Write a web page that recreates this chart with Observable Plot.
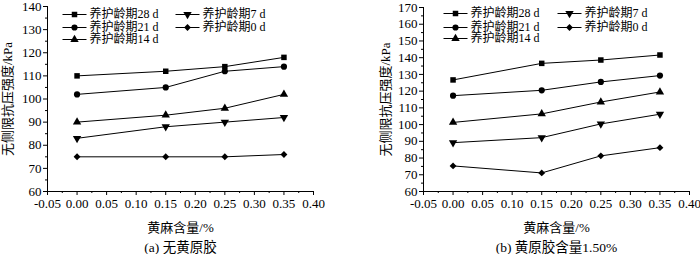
<!DOCTYPE html>
<html><head><meta charset="utf-8">
<script src="https://cdn.jsdelivr.net/npm/d3@7"></script>
<script src="https://cdn.jsdelivr.net/npm/@observablehq/plot@0.6"></script>
<style>
body{margin:0;background:#fff;}
#wrap{display:flex;width:700px;height:254px;}
#wrap svg text{font-family:'Liberation Serif','Noto Sans CJK SC',serif;}
</style></head>
<body><div id="wrap"></div>
<script>
const xValues = [0.00, 0.15, 0.25, 0.35];
const seriesNames = ["养护龄期28 d", "养护龄期7 d", "养护龄期21 d", "养护龄期0 d", "养护龄期14 d"];
// panel (a)
const a28 = [110, 112, 114, 118];
const a21 = [102, 105, 112, 114];
const a14 = [90, 93, 96, 102];
const a7  = [83, 88, 90, 92];
const a0  = [75, 75, 75, 76];
// panel (b)
const b28 = [126.7, 136.6, 138.6, 141.6];
const b21 = [117.3, 120.5, 125.5, 129.3];
const b14 = [101.3, 106.4, 113.5, 119.5];
const b7  = [89.2, 92.2, 100.4, 106.2];
const b0  = [75.3, 71.1, 81.3, 86.2];

const xTicks = [-0.05, 0.00, 0.05, 0.10, 0.15, 0.20, 0.25, 0.30, 0.35, 0.40];
const xMinor = [-0.025, 0.025, 0.075, 0.125, 0.175, 0.225, 0.275, 0.325, 0.375];
const aYTicks = [60, 70, 80, 90, 100, 110, 120, 130, 140];
const aYMinor = [65, 75, 85, 95, 105, 115, 125, 135];
const bYTicks = [60, 70, 80, 90, 100, 110, 120, 130, 140, 150, 160, 170];
const bYMinor = [65, 75, 85, 95, 105, 115, 125, 135, 145, 155, 165];

const yLabel = "无侧限抗压强度/kPa";
const xLabel = "黄麻含量/%";

const triDown = {
  draw(context, size) {
    const y = -Math.sqrt(size / (Math.sqrt(3) * 3));
    context.moveTo(0, -2 * y);
    context.lineTo(-Math.sqrt(3) * y, y);
    context.lineTo(Math.sqrt(3) * y, y);
    context.closePath();
  }
};
const hLine = (len) => ({ draw(context) { context.moveTo(-len/2, 0); context.lineTo(len/2, 0); } });

const symbolDomain = ["养护龄期28 d", "养护龄期21 d", "养护龄期14 d", "养护龄期7 d", "养护龄期0 d"];
const symbolRange = ["square", "circle", "triangle", triDown, "diamond2"];

function buildData(s28, s21, s14, s7, s0) {
  const rows = [];
  const map = {"养护龄期28 d": s28, "养护龄期21 d": s21, "养护龄期14 d": s14, "养护龄期7 d": s7, "养护龄期0 d": s0};
  for (const name of symbolDomain) map[name].forEach((v, i) => rows.push({series: name, x: xValues[i], y: v}));
  return rows;
}

function chart(opts) {
  const {data, yDomain, yTicks, yMinor, marginLeft, marginRight, marginTop, marginBottom, legend, caption, yLabelDx} = opts;
  const legendMarks = [];
  seriesNames.forEach((name, i) => {
    const col = i % 2, row = Math.floor(i / 2);
    const lx = legend.cols[col], ly = legend.rows[row];
    const sym = symbolRange[symbolDomain.indexOf(name)];
    legendMarks.push(Plot.dot([0], {frameAnchor: "top-left", dx: lx + legend.lineLen/2, dy: ly, symbol: hLine(legend.lineLen), stroke: "black", fill: "none", strokeWidth: 1}));
    legendMarks.push(Plot.dot([0], {frameAnchor: "top-left", dx: lx + legend.lineLen/2, dy: ly, symbol: sym, fill: "black", r: 3.1}));
    legendMarks.push(Plot.text([name], {frameAnchor: "top-left", dx: lx + legend.lineLen + 3, dy: ly, text: d => d, textAnchor: "start", lineAnchor: "middle", fontSize: 12, fill: "black"}));
  });
  return Plot.plot({
    width: 350, height: 254,
    marginLeft, marginRight, marginTop, marginBottom,
    style: {fontFamily: "'Liberation Serif','Noto Sans CJK SC',serif", fontSize: "13px", color: "black", background: "white"},
    x: {domain: [-0.05, 0.40]},
    y: {domain: yDomain},
    symbol: {domain: symbolDomain, range: symbolRange},
    marks: [
      Plot.axisY({ticks: yTicks, tickSize: 4, tickPadding: 2, tickFormat: d => String(d), label: null, fontSize: 13}),
      Plot.axisY({ticks: yMinor, tickSize: 2, tickFormat: () => "", label: null}),
      Plot.axisX({ticks: xTicks, tickSize: 4, tickPadding: 3, tickFormat: d => d3.format(".2f")(d).replace("−", "-"), label: null, fontSize: 13}),
      Plot.axisX({ticks: xMinor, tickSize: 2, tickFormat: () => "", label: null}),
      Plot.ruleX([-0.05], {stroke: "black"}),
      Plot.ruleY([yDomain[0]], {stroke: "black"}),
      Plot.line(data, {x: "x", y: "y", z: "series", stroke: "black", strokeWidth: 1}),
      Plot.dot(data, {x: "x", y: "y", symbol: "series", fill: "black", r: 3.1}),
      ...legendMarks,
      Plot.text([yLabel], {frameAnchor: "left", dx: yLabelDx, rotate: -90, text: d => d, fontSize: 13, fill: "black", textAnchor: "middle", lineAnchor: "middle"}),
      Plot.text([xLabel], {frameAnchor: "bottom", dy: 36, text: d => d, fontSize: 13, fill: "black", lineAnchor: "middle"}),
      Plot.text([caption], {frameAnchor: "bottom", dy: 56, text: d => d, fontSize: 13.5, fill: "black", lineAnchor: "middle"})
    ]
  });
}

const wrap = document.getElementById("wrap");
wrap.append(chart({
  data: buildData(a28, a21, a14, a7, a0),
  yDomain: [60, 140], yTicks: aYTicks, yMinor: aYMinor,
  marginLeft: 47, marginRight: 37, marginTop: 6, marginBottom: 63,
  yLabelDx: -40,
  legend: {cols: [15, 128], rows: [8, 21, 33], lineLen: 24},
  caption: "(a) 无黄原胶"
}));
wrap.append(chart({
  data: buildData(b28, b21, b14, b7, b0),
  yDomain: [60, 170], yTicks: bYTicks, yMinor: bYMinor,
  marginLeft: 73, marginRight: 11, marginTop: 7, marginBottom: 63,
  yLabelDx: -38,
  legend: {cols: [20, 134], rows: [6, 20, 31], lineLen: 24},
  caption: "(b) 黄原胶含量1.50%"
}));
</script></body></html>
